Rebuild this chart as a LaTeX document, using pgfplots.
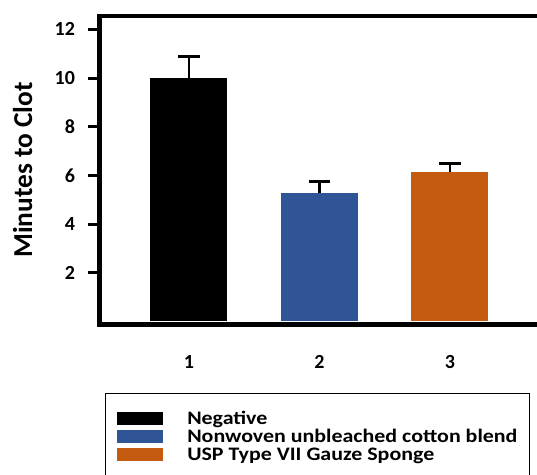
\documentclass[border=0pt]{standalone}
\usepackage{fontspec}
\setmainfont{Carlito}
\newfontfamily\legfont{Carlito}[FakeStretch=1.15]
\usepackage{pgfplots}
\pgfplotsset{compat=1.18}
\definecolor{barblue}{HTML}{2F5597}
\definecolor{barorange}{HTML}{C55A11}
\begin{document}
\begin{tikzpicture}
\begin{axis}[
  at={(0,0)}, anchor=south west,
  scale only axis, width=327.975pt, height=231.525pt,
  xmin=0.316, xmax=3.667, ymin=-0.13, ymax=12.56,
  clip=false,
  axis line style={draw=none},
  ybar, bar shift=0pt, bar width=57.75pt,
  ytick={2,4,6,8,10,12},
  xtick={1,2,3},
  ytick pos=left, xtick pos=bottom,
  tick align=outside,
  major tick length=9pt,
  y tick style={line width=2.25pt, black},
  x tick style={draw=none},
  /pgf/number format/assume math mode=true,
  yticklabel style={font=\bfseries\fontsize{15}{16}\selectfont, xshift=-6pt},
  xticklabel style={font=\bfseries\fontsize{15}{16}\selectfont, yshift=-10.5pt},
  ylabel={Minutes to Clot},
  ylabel style={font=\bfseries\fontsize{20.5}{24}\selectfont, at={(axis description cs:-0.1765,0.5)}, anchor=center},
  legend cell align=left,
  legend style={at={(axis description cs:0,0)}, anchor=north west, xshift=4pt, yshift=-51.2pt,
    draw=black, line width=0.75pt, inner xsep=8.8pt, inner ysep=13.1pt,
    column sep=18pt, row sep=0pt,
    font=\legfont\bfseries\fontsize{14.3}{16}\selectfont,
    nodes={inner sep=0pt, text height=10.5pt, text depth=3pt}},
]
\addplot[fill=black, draw=none,
  legend image code/.code={\fill[black] (0pt,-4pt) rectangle (34.5pt,6pt);},
  error bars/.cd, y dir=plus, y explicit,
  error bar style={line width=2pt, black},
  error mark options={line width=2.2pt, mark size=8pt, black, rotate=90}]
  coordinates {(1,10.02) +- (0,0.88)};
\addplot[fill=barblue, draw=none,
  legend image code/.code={\fill[barblue] (0pt,-4pt) rectangle (34.5pt,6pt);},
  error bars/.cd, y dir=plus, y explicit,
  error bar style={line width=2pt, black},
  error mark options={line width=2.2pt, mark size=8pt, black, rotate=90}]
  coordinates {(2,5.26) +- (0,0.48)};
\addplot[fill=barorange, draw=none,
  legend image code/.code={\fill[barorange] (0pt,-4pt) rectangle (34.5pt,6pt);},
  error bars/.cd, y dir=plus, y explicit,
  error bar style={line width=2pt, black},
  error mark options={line width=2.2pt, mark size=8pt, black, rotate=90}]
  coordinates {(3,6.15) +- (0,0.35)};
\legend{Negative, Nonwoven unbleached cotton blend, USP Type VII Gauze Sponge}
\draw[line width=3.4pt, line join=miter, black] (rel axis cs:1,1) -- (rel axis cs:0,1) -- (rel axis cs:0,0) -- (rel axis cs:1,0);
\end{axis}
\pgfresetboundingbox
\path (-74.775pt,-112.875pt) rectangle (327.975pt,243.375pt);
\end{tikzpicture}
\end{document}
